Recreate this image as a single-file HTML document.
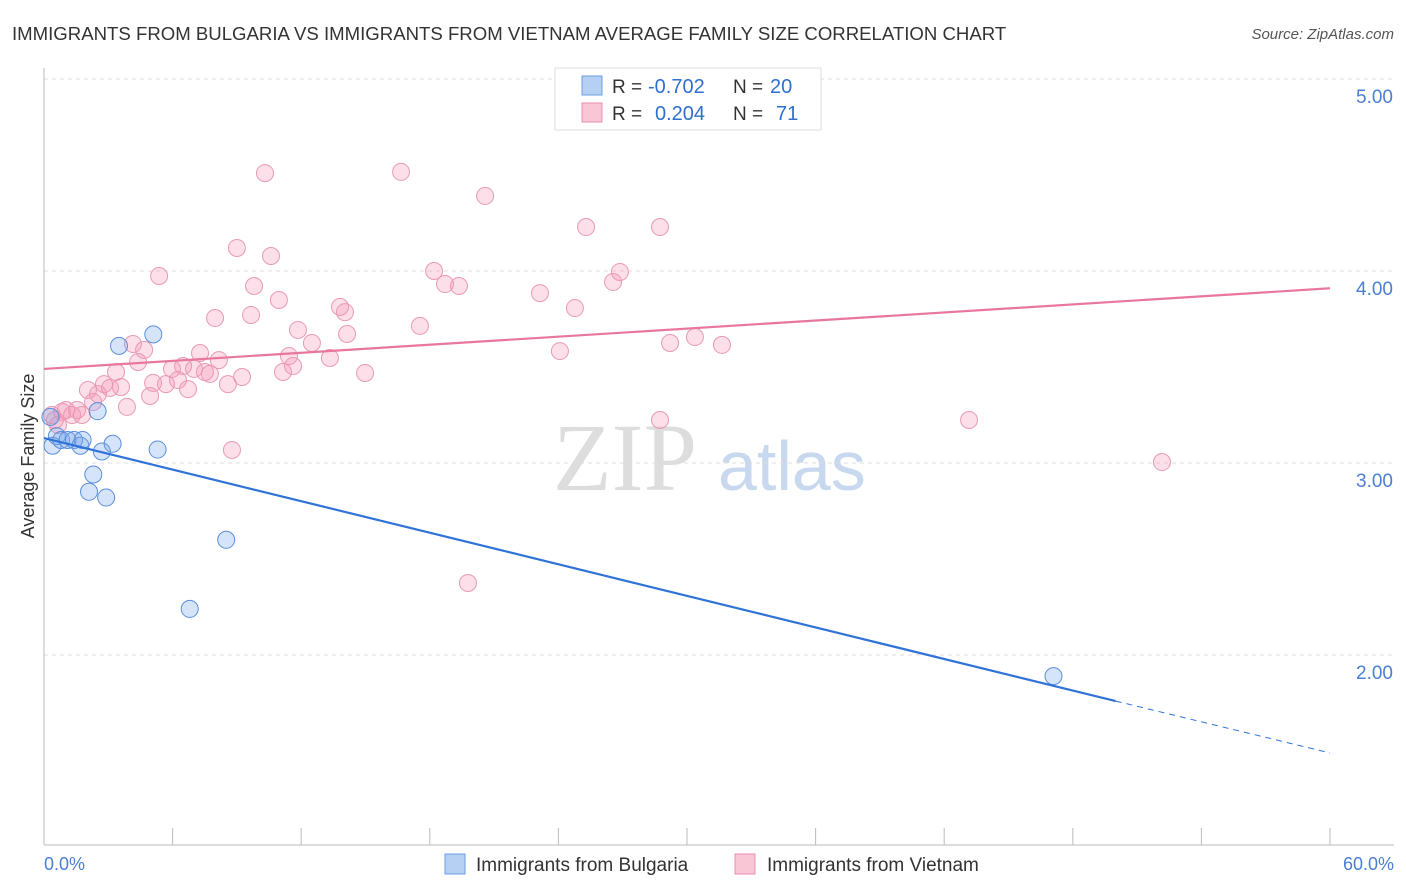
<!DOCTYPE html>
<html><head><meta charset="utf-8"><style>
body{margin:0;background:#fff;font-family:"Liberation Sans",sans-serif;}
svg{display:block}
</style></head><body>
<svg id="chart" width="1406" height="892" xmlns="http://www.w3.org/2000/svg">
<text x="12" y="40" font-size="18.6" fill="#333">IMMIGRANTS FROM BULGARIA VS IMMIGRANTS FROM VIETNAM AVERAGE FAMILY SIZE CORRELATION CHART</text>
<text x="1394" y="39" font-size="15" fill="#555" font-style="italic" text-anchor="end">Source: ZipAtlas.com</text>
<text x="553" y="490" font-size="96" fill="#ddd" font-family="Liberation Serif">ZIP</text>
<text x="718" y="490" font-size="70" fill="#c8d8ee">atlas</text>
<g id="grid"></g>
<g id="axes"></g>
<g id="marks"></g>
<text transform="translate(34,456) rotate(-90)" font-size="18" fill="#333" text-anchor="middle">Average Family Size</text>
<text x="44" y="870" font-size="18" fill="#4a7fd4">0.0%</text>
<text x="1394" y="870" font-size="18" fill="#4a7fd4" text-anchor="end">60.0%</text>
<g>
<rect x="555" y="68" width="266" height="62" fill="#fff" stroke="#ddd"/>
<rect x="582" y="76" width="20" height="19" fill="#b6d0f4" stroke="#6c9ce0"/>
<rect x="582" y="103" width="20" height="19" fill="#f9c6d5" stroke="#e890ab"/>
<text x="612" y="93" font-size="19" fill="#333">R =</text>
<text x="648" y="93" font-size="20" fill="#2f6fd0">-0.702</text>
<text x="733" y="93" font-size="19" fill="#333">N =</text>
<text x="770" y="93" font-size="20" fill="#2f6fd0">20</text>
<text x="612" y="120" font-size="19" fill="#333">R =</text>
<text x="655" y="120" font-size="20" fill="#2f6fd0">0.204</text>
<text x="733" y="120" font-size="19" fill="#333">N =</text>
<text x="776" y="120" font-size="20" fill="#2f6fd0">71</text>
</g>
<g>
<rect x="445" y="854" width="20" height="20" fill="#b6d0f4" stroke="#6c9ce0"/>
<text x="476" y="871" font-size="19" fill="#333">Immigrants from Bulgaria</text>
<rect x="735" y="854" width="20" height="20" fill="#f9c6d5" stroke="#e890ab"/>
<text x="767" y="871" font-size="19" fill="#333">Immigrants from Vietnam</text>
</g>
</svg>
<script>
const yTicks=[2,3,4,5];
const yTickLabels=["2.00","3.00","4.00","5.00"];
const bulgariaX=[0.4,0.6,0.8,1.1,1.4,1.7,1.8,2.5,2.3,2.1,2.7,2.9,3.2,3.5,5.1,5.3,6.8,8.5,47.1,0.3];
const bulgariaY=[3.09,3.14,3.12,3.12,3.12,3.09,3.12,3.27,2.94,2.85,3.06,2.82,3.10,3.61,3.67,3.07,2.24,2.60,1.89,3.24];
const vietnamPx=[[52,415],[55,420],[58,425],[62,412],[66,410],[72,415],[77,410],[82,415],[88,390],[93,402],[98,394],[104,384],[110,388],[116,372],[121,387],[127,407],[133,344],[138,362],[144,350],[150,396],[153,383],[159,276],[166,384],[172,369],[178,380],[183,366],[188,389],[194,369],[200,353],[205,372],[210,374],[215,318],[219,360],[228,384],[232,450],[237,248],[242,377],[251,315],[254,286],[265,173],[271,256],[279,300],[283,372],[289,356],[293,366],[298,330],[312,343],[330,358],[340,307],[345,312],[347,334],[365,373],[401,172],[420,326],[434,271],[445,284],[459,286],[468,583],[485,196],[540,293],[560,351],[575,308],[586,227],[613,282],[620,272],[660,227],[660,420],[670,343],[695,337],[722,345],[969,420],[1162,462]];
const vietnamX=vietnamPx.map(p=>+((p[0]-44)/1286*60).toFixed(2));
const vietnamY=vietnamPx.map(p=>+(5-(p[1]-79)/192).toFixed(3));
const bulgariaLine=[3.13,1.76,1.49];
const bulgariaLineX=[0,50,60];
const vietnamLine=[3.49,3.91];
const vietnamLineX=[0,60];

const NS="http://www.w3.org/2000/svg";
const sx=v=>44+v/60*1286, sy=v=>79+(5-v)*192;
function mk(t,a,p){const e=document.createElementNS(NS,t);for(const k in a)e.setAttribute(k,a[k]);p.appendChild(e);return e;}
const grid=document.getElementById('grid'),axes=document.getElementById('axes'),marks=document.getElementById('marks');
yTicks.forEach((t,i)=>{
 const l=mk('line',{x1:44,x2:1394,y1:sy(t),y2:sy(t),stroke:'#ddd','stroke-dasharray':'4,4'},grid);
 
 
 const tx=mk('text',{x:1393,y:sy(t)+24,'font-size':19,fill:'#4a7fd4','text-anchor':'end'},axes);
 tx.textContent=yTickLabels[i];
 
 
});
const ax=mk('line',{x1:44,x2:44,y1:68,y2:845,stroke:'#bbb'},axes);


const bx=mk('line',{x1:44,x2:1394,y1:845,y2:845,stroke:'#bbb'},axes);


for(let i=1;i<=10;i++){const t=mk('line',{x1:sx(i*6),x2:sx(i*6),y1:828,y2:845,stroke:'#bbb'},axes);
 
 }
vietnamX.forEach((x,i)=>{const c=mk('circle',{cx:sx(x),cy:sy(vietnamY[i]),r:8.5,fill:'rgba(244,150,180,0.3)',stroke:'#e99ab3','stroke-width':1},marks);
 
 });
bulgariaX.forEach((x,i)=>{const c=mk('circle',{cx:sx(x),cy:sy(bulgariaY[i]),r:8.5,fill:'rgba(120,165,235,0.3)',stroke:'#5b8fdc','stroke-width':1},marks);
 
 });
const pl=mk('line',{x1:sx(vietnamLineX[0]),y1:sy(vietnamLine[0]),x2:sx(vietnamLineX[1]),y2:sy(vietnamLine[1]),stroke:'#e8779c','stroke-width':2.2},marks);


const bl=mk('line',{x1:sx(bulgariaLineX[0]),y1:sy(bulgariaLine[0]),x2:sx(bulgariaLineX[1]),y2:sy(bulgariaLine[1]),stroke:'#2f73d8','stroke-width':2.2},marks);


const bd=mk('line',{x1:sx(bulgariaLineX[1]),y1:sy(bulgariaLine[1]),x2:sx(bulgariaLineX[2]),y2:sy(bulgariaLine[2]),stroke:'#2f73d8','stroke-width':1,'stroke-dasharray':'6,5'},marks);


</script>
</body></html>
